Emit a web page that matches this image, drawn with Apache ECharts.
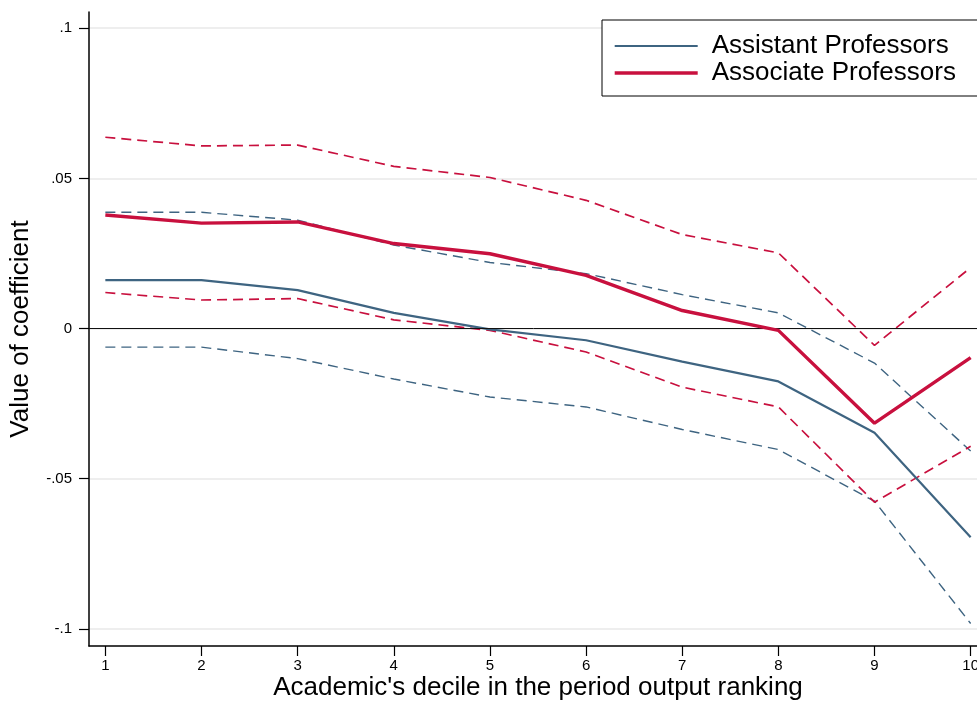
<!DOCTYPE html>
<html>
<head>
<meta charset="utf-8">
<title>Coefficients by output decile</title>
<script src="https://cdn.jsdelivr.net/npm/echarts@6/dist/echarts.min.js"></script>
<style>
  html, body { margin: 0; padding: 0; background: #ffffff; }
  #chart { width: 977px; height: 702px; }
</style>
</head>
<body>
<div id="chart"></div>
<script>
// Deciles of the period output ranking
const deciles = [1, 2, 3, 4, 5, 6, 7, 8, 9, 10];

// Assistant professors: point estimate and confidence bounds
const assistantCoef  = [0.0161, 0.0161, 0.0128, 0.0052, -0.0003, -0.0039, -0.0110, -0.0176, -0.0347, -0.0695];
const assistantUpper = [0.0387, 0.0387, 0.0361, 0.0278, 0.0220, 0.0183, 0.0113, 0.0052, -0.0115, -0.0408];
const assistantLower = [-0.0062, -0.0062, -0.0100, -0.0168, -0.0228, -0.0261, -0.0336, -0.0403, -0.0575, -0.0982];

// Associate professors: point estimate and confidence bounds
const associateCoef  = [0.0378, 0.0351, 0.0355, 0.0283, 0.0249, 0.0177, 0.0060, -0.0006, -0.0315, -0.0097];
const associateUpper = [0.0637, 0.0608, 0.0611, 0.0540, 0.0503, 0.0427, 0.0313, 0.0252, -0.0056, 0.0203];
const associateLower = [0.0120, 0.0095, 0.0100, 0.0029, -0.0006, -0.0078, -0.0195, -0.0261, -0.0578, -0.0392];

// Axis ticks
const yTickValues = [-0.1, -0.05, 0, 0.05, 0.1];
const yTickLabels = ['-.1', '-.05', '0', '.05', '.1'];
const xTickLabels = ['1', '2', '3', '4', '5', '6', '7', '8', '9', '10'];

const BLUE = '#3e6481';
const RED = '#c8103e';
const FONT = '"Liberation Sans", Arial, Helvetica, sans-serif';

const pairs = (vals) => deciles.map((d, i) => [d, vals[i]]);

function lineSeries(name, vals, color, width, dashed, z) {
  return {
    name: name,
    type: 'line',
    data: pairs(vals),
    symbol: 'none',
    showSymbol: false,
    smooth: false,
    silent: true,
    animation: false,
    z: z,
    lineStyle: {
      color: color,
      width: width,
      type: dashed ? [10, 6] : 'solid'
    },
    itemStyle: { color: color }
  };
}

const series = [
  lineSeries('assistantUpper', assistantUpper, BLUE, 1.4, true, 2),
  lineSeries('assistantLower', assistantLower, BLUE, 1.4, true, 2),
  lineSeries('associateUpper', associateUpper, RED, 1.7, true, 3),
  lineSeries('associateLower', associateLower, RED, 1.7, true, 3),
  lineSeries('Assistant Professors', assistantCoef, BLUE, 2.2, false, 4),
  lineSeries('Associate Professors', associateCoef, RED, 3.4, false, 5)
];

// Reference line at zero
series[0].markLine = {
  silent: true,
  symbol: 'none',
  label: { show: false },
  animation: false,
  lineStyle: { color: '#111111', width: 1, type: 'solid' },
  data: [{ yAxis: 0 }]
};

const chart = echarts.init(document.getElementById('chart'), null, { renderer: 'canvas' });

chart.setOption({
  backgroundColor: '#ffffff',
  animation: false,
  textStyle: { fontFamily: FONT, color: '#000' },
  grid: {
    left: 89,
    top: 12,
    width: 898,
    height: 634,
    containLabel: false,
    outerBoundsMode: 'none'
  },
  legend: {
    data: [
      {
        name: 'Assistant Professors',
        lineStyle: { color: BLUE, width: 2.2 },
        itemStyle: { opacity: 0 }
      },
      {
        name: 'Associate Professors',
        lineStyle: { color: RED, width: 3.4 },
        itemStyle: { opacity: 0 }
      }
    ],
    orient: 'vertical',
    left: 602,
    top: 20,
    padding: [13, 22, 10, 11],
    itemGap: 1,
    itemWidth: 83,
    itemHeight: 14,
    borderColor: '#000',
    borderWidth: 1,
    backgroundColor: '#fff',
    selectedMode: false,
    textStyle: {
      fontFamily: FONT,
      fontSize: 26,
      lineHeight: 26,
      color: '#000',
      padding: [0, 0, 0, 9]
    }
  },
  xAxis: {
    type: 'value',
    min: 0.83,
    max: 10.17,
    name: "Academic's decile in the period output ranking",
    nameLocation: 'middle',
    nameGap: 29,
    nameMoveOverlap: false,
    nameTextStyle: { fontFamily: FONT, fontSize: 26, color: '#000' },
    axisLine: { show: true, onZero: false, lineStyle: { color: '#000', width: 1.5 } },
    axisTick: {
      show: true,
      length: 10,
      inside: false,
      customValues: deciles,
      lineStyle: { color: '#000', width: 1.2 }
    },
    axisLabel: {
      customValues: deciles,
      margin: 12,
      fontFamily: FONT,
      fontSize: 15,
      color: '#000',
      formatter: (v) => xTickLabels[deciles.indexOf(Math.round(v))] || ''
    },
    splitLine: { show: false }
  },
  yAxis: {
    type: 'value',
    min: -0.1057,
    max: 0.1054,
    name: 'Value of coefficient',
    nameLocation: 'middle',
    nameGap: 55,
    nameRotate: 90,
    nameMoveOverlap: false,
    nameTextStyle: { fontFamily: FONT, fontSize: 26, color: '#000' },
    axisLine: { show: true, onZero: false, lineStyle: { color: '#000', width: 1.5 } },
    axisTick: {
      show: true,
      length: 10,
      inside: false,
      customValues: yTickValues,
      lineStyle: { color: '#000', width: 1.2 }
    },
    axisLabel: {
      customValues: yTickValues,
      margin: 17,
      fontFamily: FONT,
      fontSize: 15,
      color: '#000',
      formatter: (v) => {
        const i = yTickValues.findIndex((t) => Math.abs(t - v) < 1e-9);
        return i >= 0 ? yTickLabels[i] : '';
      }
    },
    splitLine: {
      show: true,
      lineStyle: { color: '#e8e8e8', width: 1.5 }
    }
  },
  series: series
});
</script>
</body>
</html>
